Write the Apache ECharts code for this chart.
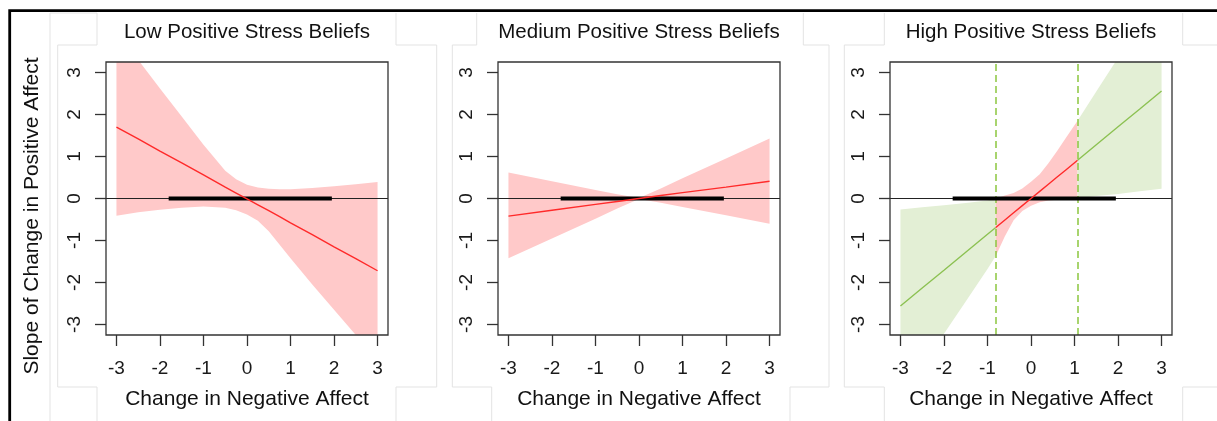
<!DOCTYPE html>
<html>
<head>
<meta charset="utf-8">
<script src="https://cdn.jsdelivr.net/npm/echarts@6/dist/echarts.min.js"></script>
<style>
  html, body { margin: 0; padding: 0; background: #fff; }
  #chart { width: 1217px; height: 421px; }
</style>
</head>
<body>
<div id="chart"></div>
<script>
// Conditional slope of positive affect on change in negative affect,
// at three levels of positive stress beliefs (with 95% confidence bands).
const panelTitles = ['Low Positive Stress Beliefs', 'Medium Positive Stress Beliefs', 'High Positive Stress Beliefs'];
const xAxisTitle = 'Change in Negative Affect';
const yAxisTitle = 'Slope of Change in Positive Affect';
const xTickValues = [-3, -2, -1, 0, 1, 2, 3];
const yTickValues = [-3, -2, -1, 0, 1, 2, 3];
const observedRange = [-1.8, 1.95];

// Low positive stress beliefs
const lowX     = [-3, -2.5, -2, -1.5, -1, -0.5, -0.25, 0, 0.25, 0.5, 0.75, 1, 1.5, 2, 2.5, 3];
const lowFit   = [1.70, 1.42, 1.13, 0.85, 0.56, 0.27, 0.13, -0.01, -0.15, -0.29, -0.43, -0.58, -0.86, -1.15, -1.43, -1.72];
const lowUpper = [4.00, 3.30, 2.62, 1.95, 1.28, 0.66, 0.46, 0.33, 0.26, 0.23, 0.22, 0.22, 0.25, 0.29, 0.34, 0.39];
const lowLower = [-0.41, -0.33, -0.27, -0.22, -0.19, -0.22, -0.28, -0.38, -0.53, -0.78, -1.10, -1.42, -2.05, -2.65, -3.25, -3.85];

// Medium positive stress beliefs
const medX     = [-3, -2, -1, -0.5, 0, 0.5, 1, 2, 3];
const medFit   = [-0.42, -0.28, -0.14, -0.07, 0.00, 0.07, 0.14, 0.27, 0.41];
const medUpper = [0.62, 0.41, 0.20, 0.10, 0.01, 0.24, 0.48, 0.95, 1.43];
const medLower = [-1.42, -0.95, -0.48, -0.24, -0.01, -0.10, -0.20, -0.40, -0.60];

// High positive stress beliefs: significant regions outside the Johnson-Neyman points
const jnPoints = [-0.81, 1.07];
const highLeftX     = [-3, -2.5, -2, -1.5, -1, -0.81];
const highLeftFit   = [-2.56, -2.13, -1.71, -1.28, -0.85, -0.69];
const highLeftUpper = [-0.26, -0.21, -0.16, -0.11, -0.05, 0.00];
const highLeftLower = [-4.80, -4.00, -3.22, -2.45, -1.68, -1.37];

const highMidX     = [-0.81, -0.6, -0.4, -0.2, 0, 0.2, 0.4, 0.6, 0.8, 1.07];
const highMidFit   = [-0.69, -0.51, -0.34, -0.17, 0.00, 0.17, 0.34, 0.51, 0.68, 0.91];
const highMidUpper = [0.00, 0.07, 0.13, 0.24, 0.40, 0.58, 0.84, 1.13, 1.44, 1.85];
const highMidLower = [-1.37, -0.90, -0.52, -0.30, -0.17, -0.09, -0.05, -0.03, -0.01, 0.00];

const highRightX     = [1.07, 1.5, 2, 2.5, 3];
const highRightFit   = [0.91, 1.28, 1.71, 2.13, 2.56];
const highRightUpper = [1.85, 2.55, 3.35, 4.10, 4.85];
const highRightLower = [0.00, 0.06, 0.11, 0.17, 0.23];

const FONT = "'Liberation Sans', Arial, sans-serif";
const RED_LINE = '#ff2a2a', RED_BAND = '#ffc9c9';
const GREEN_LINE = '#8cc152', GREEN_BAND = '#e3efd5', GREEN_DASH = '#8cc63f';

const gridLefts = [106, 498, 890];
const gridTop = 62, gridW = 282, gridH = 273;

function band(gi, xs, lo, hi, color) {
  return {
    type: 'custom', xAxisIndex: gi, yAxisIndex: gi, clip: true, silent: true, z: 1,
    data: [0],
    renderItem: function (params, api) {
      const pts = [];
      for (let i = 0; i < xs.length; i++) pts.push(api.coord([xs[i], hi[i]]));
      for (let i = xs.length - 1; i >= 0; i--) pts.push(api.coord([xs[i], lo[i]]));
      return { type: 'polygon', shape: { points: pts }, style: { fill: color, stroke: null } };
    }
  };
}

function fit(gi, xs, ys, color) {
  return {
    type: 'line', xAxisIndex: gi, yAxisIndex: gi, silent: true, z: 6,
    data: xs.map((x, i) => [x, ys[i]]),
    symbol: 'none', lineStyle: { color: color, width: 1.4 }
  };
}

function zeroLines(gi) {
  return {
    type: 'line', xAxisIndex: gi, yAxisIndex: gi, silent: true, z: 5,
    data: observedRange.map(x => [x, 0]),
    symbol: 'none', lineStyle: { color: '#000', width: 4, cap: 'butt' },
    markLine: {
      silent: true, symbol: 'none', label: { show: false },
      lineStyle: { color: '#222', width: 1.2, type: 'solid' },
      data: [{ yAxis: 0 }]
    }
  };
}

const series = [
  band(0, lowX, lowLower, lowUpper, RED_BAND),
  zeroLines(0),
  fit(0, lowX, lowFit, RED_LINE),

  band(1, medX, medLower, medUpper, RED_BAND),
  zeroLines(1),
  fit(1, medX, medFit, RED_LINE),

  band(2, highLeftX, highLeftLower, highLeftUpper, GREEN_BAND),
  band(2, highMidX, highMidLower, highMidUpper, RED_BAND),
  band(2, highRightX, highRightLower, highRightUpper, GREEN_BAND),
  zeroLines(2),
  fit(2, highLeftX, highLeftFit, GREEN_LINE),
  fit(2, highMidX, highMidFit, RED_LINE),
  fit(2, highRightX, highRightFit, GREEN_LINE),
  {
    type: 'line', xAxisIndex: 2, yAxisIndex: 2, data: [], silent: true, z: 7,
    markLine: {
      silent: true, symbol: 'none', label: { show: false },
      lineStyle: { color: GREEN_DASH, width: 1.5, type: [7, 4] },
      data: jnPoints.map(v => ({ xAxis: v }))
    }
  }
];

// faint frame lines around each panel's title, plot and axis-title areas
const frameSegments = [
  [[50, 13], [97, 13], [97, 45], [57.7, 45], [57.7, 387], [97, 387], [97, 421]],
  [[50, 13], [50, 421]],
  [[396, 13], [396, 45], [436.7, 45], [436.7, 387], [396, 387], [396, 421]],
  [[476.7, 13], [476.7, 45], [452.3, 45], [452.3, 387], [491.7, 387], [491.7, 421]],
  [[803.3, 13], [803.3, 45], [829, 45], [829, 387], [790, 387], [790, 421]],
  [[884.3, 13], [884.3, 45], [844.3, 45], [844.3, 387], [884.3, 387], [884.3, 421]],
  [[1182.7, 13], [1182.7, 45], [1217, 45]],
  [[1182.7, 421], [1182.7, 387], [1217, 387]]
];

const graphic = [];
frameSegments.forEach(pts => graphic.push({
  type: 'polyline', silent: true, z: -10,
  shape: { points: pts }, style: { stroke: '#e3e3e3', lineWidth: 1, fill: null }
}));
graphic.push({ type: 'polyline', silent: true, z: 100,
  shape: { points: [[9.7, 421], [9.7, 10.7], [1217, 10.7]] },
  style: { stroke: '#000', lineWidth: 2.8, fill: null } });
panelTitles.forEach((t, i) => graphic.push({
  type: 'text', x: gridLefts[i] + gridW / 2, y: 32, silent: true,
  style: { text: t, fill: '#111', font: '20.5px ' + FONT, textAlign: 'center', textVerticalAlign: 'middle' }
}));
graphic.push({
  type: 'text', x: 32, y: 216, rotation: Math.PI / 2, silent: true,
  style: { text: yAxisTitle, fill: '#111', font: '21px ' + FONT, textAlign: 'center', textVerticalAlign: 'middle' }
});

const option = {
  animation: false,
  backgroundColor: '#fff',
  textStyle: { fontFamily: FONT },
  grid: gridLefts.map(l => ({
    left: l, top: gridTop, width: gridW, height: gridH, show: true, z: 10,
    borderColor: '#333', borderWidth: 1.3, backgroundColor: 'transparent'
  })),
  xAxis: gridLefts.map((_, i) => ({
    gridIndex: i, type: 'value', min: -3.24, max: 3.24, position: 'bottom',
    axisLine: { show: false, onZero: false }, splitLine: { show: false },
    axisTick: { show: true, customValues: xTickValues, length: 11, lineStyle: { color: '#333', width: 1.3 } },
    axisLabel: { customValues: xTickValues, margin: 24, fontSize: 19, color: '#1a1a1a', fontFamily: FONT },
    name: xAxisTitle, nameLocation: 'middle', nameGap: 54,
    nameTextStyle: { fontSize: 21, color: '#111', fontFamily: FONT }
  })),
  yAxis: gridLefts.map((_, i) => ({
    gridIndex: i, type: 'value', min: -3.25, max: 3.25, position: 'left',
    axisLine: { show: false, onZero: false }, splitLine: { show: false },
    axisTick: { show: true, customValues: yTickValues, length: 11, lineStyle: { color: '#333', width: 1.3 } },
    axisLabel: { customValues: yTickValues, margin: 22, rotate: 90, fontSize: 19, color: '#1a1a1a', fontFamily: FONT }
  })),
  graphic: graphic,
  series: series
};

const chart = echarts.init(document.getElementById('chart'), null, { renderer: 'canvas' });
chart.setOption(option);
</script>
</body>
</html>
